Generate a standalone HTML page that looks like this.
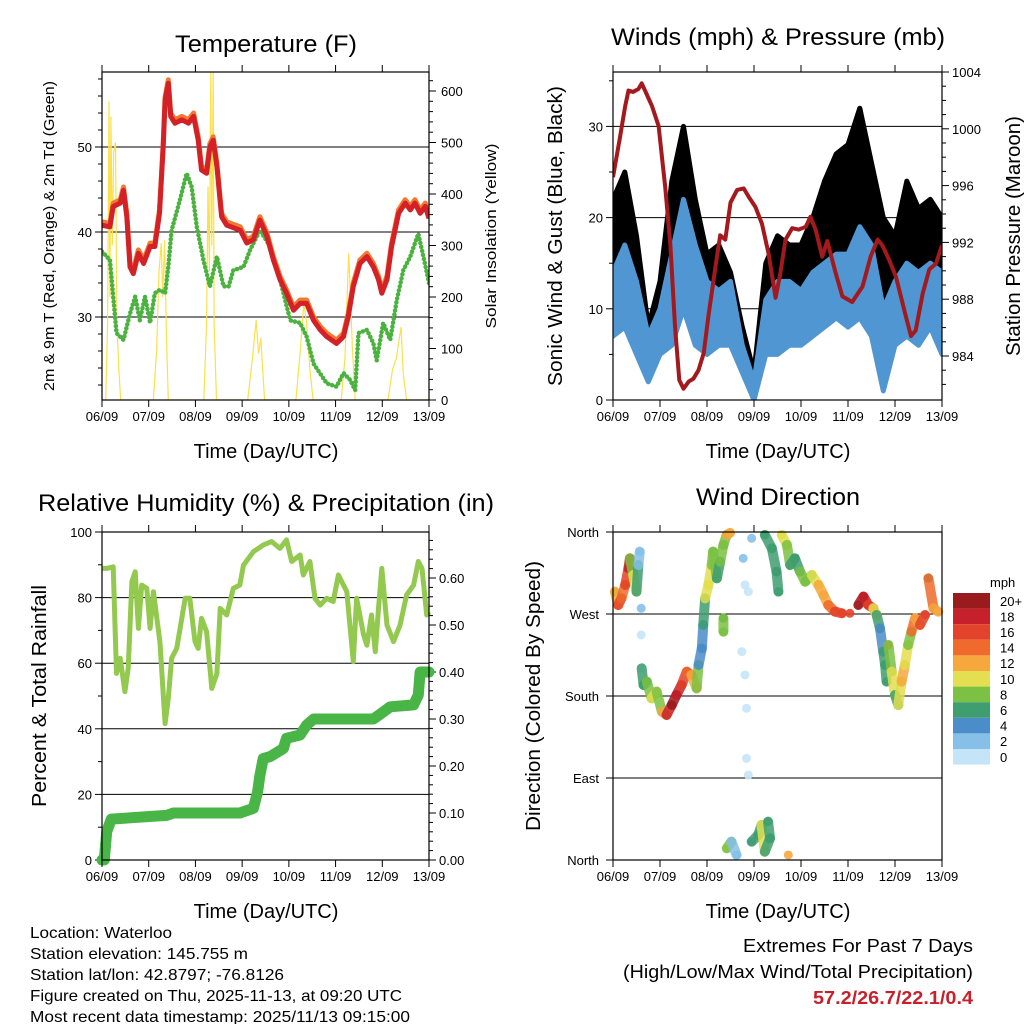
<!DOCTYPE html>
<html><head><meta charset="utf-8"><title>Weather station 7-day summary</title>
<style>
html,body{margin:0;padding:0;background:#fff}
svg{display:block;font-family:"Liberation Sans",Arial,sans-serif}
</style></head>
<body>
<svg id="root" width="1024" height="1024" viewBox="0 0 1024 1024" xmlns="http://www.w3.org/2000/svg">
<rect width="1024" height="1024" fill="#fff"/>
<g font-size="16" fill="#000">
<text x="30" y="938" textLength="142" lengthAdjust="spacingAndGlyphs">Location: Waterloo</text>
<text x="30" y="959" textLength="218" lengthAdjust="spacingAndGlyphs">Station elevation: 145.755 m</text>
<text x="30" y="980" textLength="254" lengthAdjust="spacingAndGlyphs">Station lat/lon: 42.8797; -76.8126</text>
<text x="30" y="1001" textLength="372" lengthAdjust="spacingAndGlyphs">Figure created on Thu, 2025-11-13, at 09:20 UTC</text>
<text x="30" y="1022" textLength="380" lengthAdjust="spacingAndGlyphs">Most recent data timestamp: 2025/11/13 09:15:00</text>
</g>
<g text-anchor="end">
<text x="973" y="952" font-size="18" textLength="230" lengthAdjust="spacingAndGlyphs">Extremes For Past 7 Days</text>
<text x="973" y="978" font-size="18" textLength="350" lengthAdjust="spacingAndGlyphs">(High/Low/Max Wind/Total Precipitation)</text>
<text x="973" y="1004" font-size="18" font-weight="bold" fill="#c8202a" textLength="160" lengthAdjust="spacingAndGlyphs">57.2/26.7/22.1/0.4</text>
</g>
</svg>
<script>
// ---------- DATA ----------
const dayLabels = ["06/09","07/09","08/09","09/09","10/09","11/09","12/09","13/09"];
// Temperature panel
const tempTimes = [0,0.17,0.24,0.39,0.46,0.53,0.60,0.67,0.78,0.89,1.03,1.13,1.23,1.31,1.35,1.42,1.47,1.56,1.71,1.85,1.96,2.06,2.13,2.24,2.31,2.38,2.46,2.56,2.67,2.96,3.10,3.24,3.38,3.53,3.67,3.81,3.95,4.10,4.24,4.38,4.53,4.67,4.81,5.02,5.17,5.27,5.38,5.52,5.67,5.81,5.92,5.99,6.10,6.20,6.35,6.49,6.60,6.70,6.81,6.92,7.0];
const tempRed = [40.8,40.6,43.0,43.4,44.9,41.8,35.9,35.1,37.5,36.3,38.3,38.3,42.2,50.0,55.5,57.5,53.6,52.8,53.2,52.8,53.6,50.8,47.3,46.9,50.0,50.8,47.7,41.8,40.8,40.2,38.7,39.1,41.4,39.5,36.7,34.4,32.8,30.8,31.6,31.6,29.6,28.5,27.7,26.9,27.7,30.0,33.6,36.3,37.1,35.9,34.4,32.8,34.4,38.3,42.2,43.4,42.6,43.4,42.2,43.0,41.6];
const dewTimes = [0,0.17,0.31,0.46,0.60,0.71,0.81,0.92,1.03,1.13,1.24,1.35,1.42,1.49,1.67,1.81,1.92,2.03,2.17,2.31,2.46,2.60,2.71,2.81,3.03,3.17,3.38,3.60,3.81,4.03,4.24,4.38,4.53,4.81,5.02,5.17,5.31,5.42,5.49,5.67,5.81,5.88,6.02,6.17,6.31,6.45,6.60,6.77,6.88,7.0];
const dewGreen = [37.7,36.7,28.1,27.3,30.4,32.4,29.6,32.4,29.3,32.8,33.2,32.8,35.9,40.2,43.8,46.9,45.3,40.6,36.7,33.6,37.1,33.6,33.6,35.5,35.9,37.9,40.2,38.3,34.4,29.6,29.3,27.7,24.5,22.2,21.8,23.4,22.6,21.4,28.1,28.5,26.9,24.9,29.3,27.3,32.0,35.5,37.1,39.8,37.1,34.0];
const solarTimes = [0,0.08,0.12,0.15,0.17,0.19,0.22,0.25,0.29,0.32,0.36,0.40,1.10,1.17,1.22,1.27,1.30,1.34,1.38,1.42,2.18,2.24,2.27,2.30,2.33,2.35,2.38,2.40,2.45,3.12,3.22,3.30,3.35,3.40,3.48,4.15,4.25,4.32,4.38,4.45,4.52,5.12,5.20,5.28,5.32,5.36,5.42,6.12,6.22,6.30,6.40,6.45,6.52,7.0];
const solarVals = [0,0,150,580,200,550,300,480,500,150,60,0,0,100,250,305,200,310,120,0,0,150,414,250,640,300,640,150,0,0,80,155,90,120,0,0,100,188,150,60,0,0,80,285,200,100,0,0,60,80,142,50,0,0];
const tempTicks = [30,40,50];
const solarTicks = [0,100,200,300,400,500,600];
// Winds panel
const windTimes = [0,0.25,0.5,0.75,1,1.25,1.5,1.75,2,2.25,2.5,2.75,3,3.25,3.5,3.75,4,4.25,4.5,4.75,5,5.25,5.5,5.75,6,6.25,6.5,6.75,7];
const windLow = [7,8,5,2,5,6,10,6,5,6,6,3,0,5,5,6,6,7,8,9,8,9,7,1,6,7,6,8,5];
const windHigh = [14,17,13,7,10,16,22,17,13,12,13,6,2,11,13,13,12,14,15,16,16,19,17,10,13,15,14,15,14];
const gustLow = [12,14,10,3,6,10,16,10,8,9,9,4,0,8,9,10,11,12,13,14,15,17,15,3,10,12,11,14,10];
const gustHigh = [22,25,18,8,13,24,30,22,16,17,14,8,3,15,18,17,17,20,24,27,28,32,26,20,18,24,21,22,20];
const presTimes = [0,0.15,0.26,0.33,0.43,0.54,0.61,0.68,0.83,0.97,1.11,1.22,1.32,1.41,1.50,1.61,1.71,1.82,1.93,2.03,2.18,2.28,2.39,2.50,2.64,2.78,2.89,3.03,3.17,3.31,3.46,3.56,3.67,3.81,3.95,4.10,4.20,4.31,4.45,4.56,4.74,4.88,5.09,5.31,5.48,5.63,5.73,5.87,6.02,6.23,6.34,6.44,6.59,6.73,6.87,7.0];
const presVals = [996.6,999.4,1001.6,1002.7,1002.6,1002.8,1003.2,1002.7,1001.6,1000.2,995.9,991.9,986.1,982.3,981.7,982.2,982.4,983.0,984.2,986.8,990.3,992.5,992.2,994.8,995.7,995.8,995.2,994.5,993.3,991.2,988.1,989.8,992.2,993.0,992.9,993.1,993.8,992.9,991.0,992.1,989.8,988.2,987.8,988.9,991.0,992.2,991.8,990.8,989.6,986.8,985.4,985.8,988.4,990.1,990.5,991.8];
const windTicks = [0,10,20,30];
const presTicks = [984,988,992,996,1000,1004];
// RH panel
const rhTimes = [0,0.10,0.24,0.31,0.39,0.49,0.56,0.64,0.71,0.78,0.85,0.96,1.03,1.10,1.24,1.35,1.42,1.49,1.60,1.78,1.88,1.99,2.06,2.13,2.24,2.35,2.46,2.53,2.67,2.81,2.95,3.03,3.24,3.45,3.63,3.81,3.95,4.06,4.24,4.31,4.45,4.56,4.67,4.81,4.95,5.06,5.24,5.38,5.45,5.60,5.67,5.77,5.85,5.92,5.99,6.10,6.24,6.38,6.52,6.67,6.77,6.85,6.95,7.0];
const rhVals = [88.9,88.9,89.4,56.9,61.5,51.3,58.4,84.9,87.9,70.6,83.8,82.8,70.6,81.8,66.6,41.6,49.3,61.5,64.5,79.8,79.8,66.6,64.5,73.7,69.6,52.3,56.9,76.7,74.7,82.8,83.8,89.9,94.0,96.0,97.1,95.0,97.6,91.0,93.0,86.9,91.0,79.8,77.7,79.8,78.8,86.9,81.8,60.5,79.8,68.6,65.5,74.7,63.5,76.7,88.9,71.6,66.6,71.6,80.8,83.8,91.0,88.9,74.7,75.7];
const rainTimes = [0,0.05,0.10,0.20,1.38,1.53,2.95,3.24,3.33,3.38,3.45,3.60,3.88,3.95,4.24,4.38,4.53,5.81,6.02,6.17,6.67,6.77,6.81,7.0];
const rainVals = [0,0,0.06,0.087,0.095,0.10,0.10,0.11,0.145,0.18,0.216,0.22,0.237,0.259,0.266,0.287,0.30,0.30,0.315,0.326,0.33,0.351,0.40,0.40];
const rhTicks = [0,20,40,60,80,100];
const rainTicks = [0,0.1,0.2,0.3,0.4,0.5,0.6];
// Wind direction panel
const dirTimes = [0.04,0.11,0.18,0.26,0.33,0.36,0.43,0.50,0.54,0.57,0.60,0.60,0.61,0.65,0.72,0.82,0.93,1.04,1.14,1.25,1.35,1.46,1.57,1.67,1.78,1.82,1.89,1.92,1.96,2.03,2.10,2.13,2.21,2.28,2.35,2.42,2.49,2.35,2.35,2.74,2.81,2.84,2.84,2.88,2.77,2.81,2.88,2.95,2.42,2.52,2.63,2.95,3.09,3.16,3.23,3.34,3.30,3.73,3.23,3.38,3.48,3.52,3.59,3.70,3.77,3.87,3.98,4.09,4.23,4.37,4.48,4.58,4.72,4.87,5.04,5.22,5.33,5.43,5.54,5.61,5.68,5.75,5.79,5.82,5.86,5.93,6.00,6.07,6.14,6.21,6.28,6.35,6.43,6.53,6.64,6.71,6.82,6.92];
const dirDeg = [294.5,279.9,287.2,301.9,320.2,331.1,312.8,294.5,323.8,338.4,276.3,247.0,210.4,192.1,195.8,177.5,184.8,162.8,159.2,170.1,181.1,192.1,206.7,203.1,188.4,214.0,232.3,258.0,287.2,301.9,323.8,338.4,309.2,327.5,345.8,356.8,359,265.3,250.6,228.7,203.1,166.5,111.6,93.3,331.1,301.9,294.5,353.1,12.8,20.1,5.5,20.1,27.4,38.4,9.1,23.8,42.1,5.5,356.8,342.1,316.5,294.5,356.8,345.8,323.8,331.1,316.5,305.5,312.8,301.9,290.9,279.9,272.6,270.8,270.8,279.9,289.1,279.9,276.3,268.9,254.3,228.7,214.0,195.8,236.0,206.7,181.1,170.1,195.8,214.0,236.0,250.6,265.3,258.0,268.9,309.2,276.3,272.6];
const dirSpeed = [8,12,16,14,16,18,8,10,6,2,2,0,0,6,6,8,10,8,12,18,20,18,16,14,12,8,4,4,6,10,10,8,8,6,8,8,12,6,8,0,0,0,0,0,2,0,0,2,10,8,2,4,6,6,10,6,6,12,6,6,6,6,10,10,8,6,6,8,8,10,12,12,14,16,16,16,20,18,16,10,6,4,6,6,14,8,10,6,10,12,10,8,14,12,16,6,14,12];
const dirTicks = ["North","East","South","West","North"];
const speedBins = ["0","2","4","6","8","10","12","14","16","18","20+"];
const speedColors = ["#c4e5f7","#86c0e8","#4b8dc9","#3f9e70","#7cc143","#e3df50","#f6a83f","#ef6a2c","#e2432a","#c6202a","#991b1e"];

// ---------- HELPERS ----------
const NS = "http://www.w3.org/2000/svg";
const root = document.getElementById("root");
function el(tag, attrs, parent){
  const e = document.createElementNS(NS, tag);
  for (const k in attrs) e.setAttribute(k, attrs[k]);
  (parent||root).appendChild(e);
  return e;
}
function txt(x,y,s,size,parent,extra){
  const t = el("text", Object.assign({x:x,y:y,"font-size":size}, extra||{}), parent);
  t.textContent = s; return t;
}
function lin(d0,d1,r0,r1){ return v => r0 + (v-d0)/(d1-d0)*(r1-r0); }
function pathOf(ts, vs, sx, sy){
  let d=""; for(let i=0;i<ts.length;i++){ d += (i?"L":"M") + sx(ts[i]).toFixed(1)+","+sy(vs[i]).toFixed(1); } return d;
}
function frame(g, x0,y0,x1,y1){
  el("rect",{x:x0,y:y0,width:x1-x0,height:y1-y0,fill:"none",stroke:"#000","stroke-width":1.2},g);
}
function xAxis(g, sx, y0, y1, labelY, titleY, cx){
  for(let i=0;i<dayLabels.length;i++){
    const x = sx(i);
    const t1 = el("line",{x1:x,x2:x,y1:y1,y2:y1+7,stroke:"#000"},g);
    
    
    el("line",{x1:x,x2:x,y1:y0,y2:y0-7,stroke:"#000"},g);
    const l = txt(x,labelY,dayLabels[i],13,g,{"text-anchor":"middle"});
    
    
  }
  const tt = txt(cx,titleY,"Time (Day/UTC)",20,g,{"text-anchor":"middle"});
  
  
}
function yTitle(g,x,y,s,size,len){
  const t = el("text",{x:0,y:0,"font-size":size,"text-anchor":"middle",transform:`translate(${x},${y}) rotate(-90)`,textLength:len,lengthAdjust:"spacingAndGlyphs"},g);
  t.textContent = s; return t;
}
function title(g,x,y,s,len){
  const t = txt(x,y,s,24,g,{"text-anchor":"middle",textLength:len,lengthAdjust:"spacingAndGlyphs"});
  
  
}

// ---------- PANEL 1: TEMPERATURE ----------
(function(){
  const g = el("g",{});  
  const X0=102,X1=429,Y0=72,Y1=400;
  const sx = lin(0,7,X0,X1), sy = lin(30,40,317,232), ss = lin(0,600,400,91);
  title(g,266,52,"Temperature (F)",182);
  const clip = el("clipPath",{id:"c1"},g); el("rect",{x:X0,y:Y0,width:X1-X0,height:Y1-Y0},clip);
  tempTicks.forEach(v=>{
    const gl = el("line",{x1:X0,x2:X1,y1:sy(v),y2:sy(v),stroke:"#000","stroke-width":1},g);
     
    el("line",{x1:X0,x2:X0-7,y1:sy(v),y2:sy(v),stroke:"#000"},g);
    const l = txt(X0-10,sy(v)+5,String(v),13,g,{"text-anchor":"end"});
     
  });
  for(let v=22; v<=58; v+=2){ if(v%10) el("line",{x1:X0,x2:X0-4,y1:sy(v),y2:sy(v),stroke:"#000"},g); }
  solarTicks.forEach(v=>{
    el("line",{x1:X1,x2:X1+7,y1:ss(v),y2:ss(v),stroke:"#000"},g);
    const l = txt(X1+12,ss(v)+5,String(v),13,g);
     
  });
  for(let v=20; v<=620; v+=20){ if(v%100) el("line",{x1:X1,x2:X1+4,y1:ss(v),y2:ss(v),stroke:"#000"},g); }
  const pg = el("g",{"clip-path":"url(#c1)"},g);
  const so = el("path",{d:pathOf(solarTimes,solarVals,sx,ss),fill:"none",stroke:"#fbe04a","stroke-width":1.2},pg);
   
  const dw = el("path",{d:pathOf(dewTimes,dewGreen,sx,sy),fill:"none",stroke:"#4cb23f","stroke-width":4.5,"stroke-linecap":"round","stroke-linejoin":"round","stroke-dasharray":"0.1 4"},pg);
   
  const t9 = el("path",{d:pathOf(tempTimes,tempRed.map(v=>v+0.4),sx,sy),fill:"none",stroke:"#f07a30","stroke-width":5,"stroke-linejoin":"round"},pg);
   
  const t2 = el("path",{d:pathOf(tempTimes,tempRed,sx,sy),fill:"none",stroke:"#d42127","stroke-width":5,"stroke-linejoin":"round"},pg);
   
  frame(g,X0,Y0,X1,Y1);
  xAxis(g,sx,Y0,Y1,421,458,266);
  const yl = yTitle(g,54,236,"2m & 9m T (Red, Orange) & 2m Td (Green)",15,310);
   
  const yr = yTitle(g,496,236,"Solar Insolation (Yellow)",15,185);
   
})();

// ---------- PANEL 2: WINDS ----------
(function(){
  const g = el("g",{});  
  const X0=613,X1=942,Y0=72,Y1=400;
  const sx = lin(0,7,X0,X1), sy = lin(0,10,400,308.8), sp = lin(984,1004,356,72);
  title(g,778,45,"Winds (mph) & Pressure (mb)",334);
  const clip = el("clipPath",{id:"c2"},g); el("rect",{x:X0,y:Y0,width:X1-X0,height:Y1-Y0},clip);
  windTicks.forEach(v=>{
    const gl = el("line",{x1:X0,x2:X1,y1:sy(v),y2:sy(v),stroke:"#000"},g);
     
    el("line",{x1:X0,x2:X0-7,y1:sy(v),y2:sy(v),stroke:"#000"},g);
    const l = txt(X0-10,sy(v)+5,String(v),13,g,{"text-anchor":"end"});
     
  });
  for(let v=5; v<=35; v+=10) el("line",{x1:X0,x2:X0-4,y1:sy(v),y2:sy(v),stroke:"#000"},g);
  presTicks.forEach(v=>{
    el("line",{x1:X1,x2:X1+7,y1:sp(v),y2:sp(v),stroke:"#000"},g);
    const l = txt(X1+10,sp(v)+5,String(v),13,g);
     
  });
  for(let v=982; v<=1004; v+=1){ if(v%4) el("line",{x1:X1,x2:X1+4,y1:sp(v),y2:sp(v),stroke:"#000"},g); }
  const pg = el("g",{"clip-path":"url(#c2)"},g);
  function band(lo,hi,color){
    let d="M"; for(let i=0;i<windTimes.length;i++) d += (i?"L":"")+sx(windTimes[i]).toFixed(1)+","+sy(hi[i]).toFixed(1);
    for(let i=windTimes.length-1;i>=0;i--) d += "L"+sx(windTimes[i]).toFixed(1)+","+sy(lo[i]).toFixed(1);
    return el("path",{d:d+"Z",fill:color,stroke:color,"stroke-width":5,"stroke-linejoin":"round"},pg);
  }
  const gb = band(gustLow,gustHigh,"#000");
   
  const wb = band(windLow,windHigh,"#4f96d2");
   
  const pr = el("path",{d:pathOf(presTimes,presVals,sx,sp),fill:"none",stroke:"#a3191d","stroke-width":4,"stroke-linejoin":"round"},pg);
   
  frame(g,X0,Y0,X1,Y1);
  xAxis(g,sx,Y0,Y1,421,458,778);
  const yl = yTitle(g,562,236,"Sonic Wind & Gust (Blue, Black)",20,300);
   
  const yr = yTitle(g,1020,236,"Station Pressure (Maroon)",20,240);
   
})();

// ---------- PANEL 3: RH & PRECIP ----------
(function(){
  const g = el("g",{});  
  const X0=102,X1=429,Y0=532,Y1=860;
  const sx = lin(0,7,X0,X1), sy = lin(0,100,860,532), sr = lin(0,0.1,860,813);
  title(g,266,511,"Relative Humidity (%) & Precipitation (in)",456);
  const clip = el("clipPath",{id:"c3"},g); el("rect",{x:X0-8,y:Y0,width:X1-X0+16,height:Y1-Y0+8},clip);
  rhTicks.forEach(v=>{
    if(v>0 && v<100){ const gl = el("line",{x1:X0,x2:X1,y1:sy(v),y2:sy(v),stroke:"#000"},g);
        }
    el("line",{x1:X0,x2:X0-7,y1:sy(v),y2:sy(v),stroke:"#000"},g);
    const l = txt(X0-10,sy(v)+5,String(v),13,g,{"text-anchor":"end"});
     
  });
  for(let v=10; v<=90; v+=20) el("line",{x1:X0,x2:X0-4,y1:sy(v),y2:sy(v),stroke:"#000"},g);
  rainTicks.forEach(v=>{
    el("line",{x1:X1,x2:X1+7,y1:sr(v),y2:sr(v),stroke:"#000"},g);
    const l = txt(X1+10,sr(v)+5,v.toFixed(2),13,g);
     
  });
  for(let v=0.02; v<=0.69; v+=0.02){ el("line",{x1:X1,x2:X1+4,y1:sr(v),y2:sr(v),stroke:"#000"},g); }
  const pg = el("g",{"clip-path":"url(#c3)"},g);
  const rh = el("path",{d:pathOf(rhTimes,rhVals,sx,sy),fill:"none",stroke:"#93c94e","stroke-width":5,"stroke-linejoin":"round"},pg);
   
  const rn = el("path",{d:pathOf(rainTimes,rainVals,sx,sr),fill:"none",stroke:"#49b547","stroke-width":11,"stroke-linejoin":"round","stroke-linecap":"round"},pg);
   
  frame(g,X0,Y0,X1,Y1);
  xAxis(g,sx,Y0,Y1,881,918,266);
  const yl = yTitle(g,46,696,"Percent & Total Rainfall",20,222);
   
})();

// ---------- PANEL 4: WIND DIRECTION ----------
(function(){
  const g = el("g",{});  
  const X0=613,X1=942,Y0=532,Y1=860;
  const sx = lin(0,7,X0,X1), sy = lin(0,360,860,532);
  title(g,778,505,"Wind Direction",164);
  dirTicks.forEach((s,i)=>{
    const v = i*90, y = sy(v);
    if(i>0 && i<4){ const gl = el("line",{x1:X0,x2:X1,y1:y,y2:y,stroke:"#000"},g);
        }
    el("line",{x1:X0,x2:X0-7,y1:y,y2:y,stroke:"#000"},g);
    const l = txt(X0-14,y+5,s,13,g,{"text-anchor":"end"});
     
  });
  const pg = el("g",{},g);
  function col(s){ let k=Math.floor(s/2); if(k>10)k=10; if(k<0)k=0; return speedColors[k]; }
  for(let i=0;i<dirTimes.length;i++){
    if(i>0){
      const dt = Math.abs(dirTimes[i]-dirTimes[i-1]), dd = Math.abs(dirDeg[i]-dirDeg[i-1]);
      if(dt<0.16 && dd<40 && dirSpeed[i]>0){
        const seg = el("line",{x1:sx(dirTimes[i-1]),y1:sy(dirDeg[i-1]),x2:sx(dirTimes[i]),y2:sy(dirDeg[i]),stroke:col(dirSpeed[i]),"stroke-width":10,"stroke-linecap":"round",opacity:0.85},pg);
        
        
      }
    }
    const c = el("circle",{cx:sx(dirTimes[i]),cy:sy(dirDeg[i]),r:4.5,fill:col(dirSpeed[i]),opacity:0.9},pg);
    
    
  }
  frame(g,X0,Y0,X1,Y1);
  xAxis(g,sx,Y0,Y1,881,918,778);
  const yl = yTitle(g,540,696,"Direction (Colored By Speed)",20,270);
   
  const cb = el("g",{},root);  
  const bh = 15.6, top = 593;
  for(let i=0;i<speedBins.length;i++){
    const k = speedBins.length-1-i;
    const r = el("rect",{x:953,y:top+i*bh,width:37,height:bh,fill:speedColors[k]},cb);
     
    const l = txt(1000,top+i*bh+bh/2+5,speedBins[k],13,cb);
     
  }
  const u = txt(990,587,"mph",13,cb);
   
})();
</script>
</body></html>
